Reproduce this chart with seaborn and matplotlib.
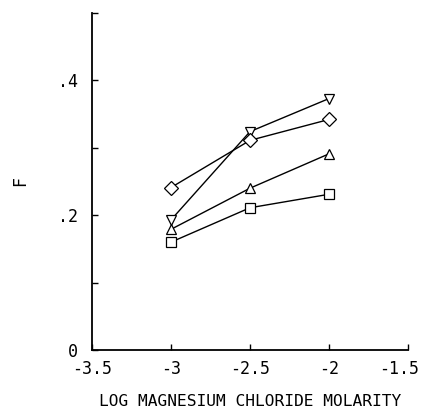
import pandas as pd
import numpy as np
import matplotlib
matplotlib.use('Agg')
import matplotlib.pyplot as plt
import matplotlib.transforms as mtransforms
import seaborn as sns

####################################################
log_molarity = [-3.0, -2.5, -2.0]
f_down_triangle = [0.193, 0.324, 0.373]
f_diamond = [0.241, 0.311, 0.342]
f_up_triangle = [0.179, 0.240, 0.291]
f_square = [0.160, 0.211, 0.231]

x_ticks = [-3.5, -3.0, -2.5, -2.0, -1.5]
x_tick_labels = ['-3.5', '-3', '-2.5', '-2', '-1.5']
y_ticks = [0.0, 0.1, 0.2, 0.3, 0.4, 0.5]
y_tick_labels = ['0', '', '.2', '', '.4', '']


def build_frame():
    series = {'down': f_down_triangle, 'diamond': f_diamond,
              'up': f_up_triangle, 'square': f_square}
    rows = []
    for name, vals in series.items():
        for x, y in zip(log_molarity, vals):
            rows.append({'logM': x, 'F': y, 'series': name})
    return pd.DataFrame(rows)


def plot_f(df):
    sns.set_style('ticks')
    plt.rcParams['font.family'] = ['DejaVu Sans Mono']
    fig = plt.figure(figsize=(4.23, 4.09), dpi=100)
    ax = fig.add_axes([0.2175, 0.1443, 0.747, 0.824])
    sns.lineplot(data=df, x='logM', y='F', style='series',
                 markers={'down': 'v', 'diamond': 'D', 'up': '^', 'square': 's'},
                 dashes=False, color='black', linewidth=1.0,
                 markersize=7, markerfacecolor='white',
                 markeredgecolor='black', markeredgewidth=0.9,
                 legend=False, ax=ax)
    ax.set_xlim(-3.5, -1.5)
    ax.set_ylim(0, 0.5)
    ax.set_xticks(x_ticks)
    ax.set_xticklabels(x_tick_labels)
    ax.set_yticks(y_ticks)
    ax.set_yticklabels(y_tick_labels)
    ax.tick_params(direction='in', length=4, width=1, labelsize=12,
                   colors='black')
    ax.tick_params(axis='x', pad=7)
    ax.tick_params(axis='y', pad=10)
    # last x label is pulled in a little, as in the original
    last = ax.get_xticklabels()[-1]
    last.set_transform(last.get_transform() +
                       mtransforms.ScaledTranslation(-0.09, 0, fig.dpi_scale_trans))
    for side in ['top', 'right']:
        ax.spines[side].set_visible(False)
    for side in ['left', 'bottom']:
        ax.spines[side].set_linewidth(1.3)
        ax.spines[side].set_color('black')
    ax.set_xlabel('LOG MAGNESIUM CHLORIDE MOLARITY', fontsize=11.7, color='black')
    ax.set_ylabel('F', fontsize=12, color='black')
    ax.xaxis.set_label_coords(0.5, -0.154)
    ax.yaxis.set_label_coords(-0.228, 0.5)
    ax.xaxis.label.set_va('center')
    ax.yaxis.label.set_va('center')
    plt.savefig('out.png', dpi=100)


if __name__ == '__main__':
    plot_f(build_frame())
